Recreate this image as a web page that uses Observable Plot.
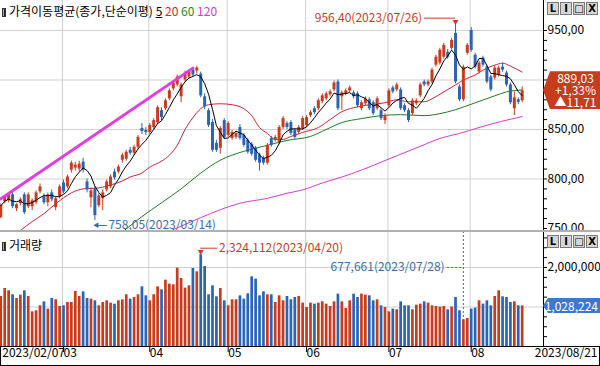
<!DOCTYPE html>
<html><head><meta charset="utf-8">
<script src="https://cdn.jsdelivr.net/npm/d3@7"></script>
<script src="https://cdn.jsdelivr.net/npm/@observablehq/plot@0.6"></script>
<style>
body{margin:0;background:#fff;}
#wrap{position:relative;width:600px;height:366px;overflow:hidden;font-family:'Noto Sans CJK KR',sans-serif;font-size:12px;background:#fff;color:#000;}
#price{position:absolute;left:0;top:0;width:600px;height:231px;overflow:hidden;}
#vol{position:absolute;left:0;top:231px;width:600px;height:135px;overflow:hidden;}
.ttl{position:absolute;left:2px;white-space:nowrap;line-height:14px;font-size:12px;}
.ico{display:inline-block;width:4px;height:9px;margin-right:3px;vertical-align:-1px;background:linear-gradient(90deg,#aaa 0 40%,#222 40%);border:1px solid #333;box-sizing:border-box;}
.btns{position:absolute;right:2px;display:flex;gap:1px;}
.btns span{display:inline-block;width:10px;height:11px;border:1px solid #7a7a7a;background:#d6d6d6;font:bold 10px/11px 'DejaVu Sans',sans-serif;text-align:center;color:#000;}
.tag{position:absolute;left:543px;width:57px;color:#fff;font-size:12px;}
#sep{position:absolute;left:0;top:230px;width:600px;height:2px;background:#b0b0b0;}
#strip{position:absolute;left:0;top:346px;width:598px;height:18px;border:1px solid #000;}
</style>
</head><body>
<div id="wrap">
  <div id="price"></div>
  <div id="vol"></div>
  <div id="sep"></div>
  <div id="strip"></div>
  <div class="ttl" style="top:4px"><span class="ico"></span>가격이동평균(종가,단순이평) <u>5</u> <span style="color:#d42828">20</span> <span style="color:#1e8a1e">60</span> <span style="color:#d23cd2">120</span></div>
  <div class="ttl" style="top:238px"><span class="ico"></span>거래량</div>
  <div class="btns" style="top:2px"><span>L</span><span>I</span><span>□</span><span>X</span></div>
  <div class="btns" style="top:235px"><span>L</span><span>I</span><span>□</span><span>X</span></div>
  <div id="ptag" class="tag"></div>
  <div id="vtag" class="tag"></div>
</div>
<script>
// ---------------- data ----------------
const tradingDays = ["02/07","02/08","02/09","02/10","02/13","02/14","02/15","02/16","02/17","02/20","02/21","02/22","02/23","02/24","02/27","02/28",
"03/02","03/03","03/06","03/07","03/08","03/09","03/10","03/13","03/14","03/15","03/16","03/17","03/20","03/21","03/22","03/23","03/24","03/27","03/28","03/29","03/30","03/31",
"04/03","04/04","04/05","04/06","04/07","04/10","04/11","04/12","04/13","04/14","04/17","04/18","04/19","04/20","04/21","04/24","04/25","04/26","04/27","04/28",
"05/02","05/03","05/04","05/08","05/09","05/10","05/11","05/12","05/15","05/16","05/17","05/18","05/19","05/22","05/23","05/24","05/25","05/26","05/30","05/31",
"06/01","06/02","06/05","06/07","06/08","06/09","06/12","06/13","06/14","06/15","06/16","06/19","06/20","06/21","06/22","06/23","06/26","06/27","06/28","06/29","06/30",
"07/03","07/04","07/05","07/06","07/07","07/10","07/11","07/12","07/13","07/14","07/17","07/18","07/19","07/20","07/21","07/24","07/25","07/26","07/27","07/28","07/31",
"08/01","08/02","08/03","08/04","08/07","08/08","08/09","08/10","08/11","08/14","08/16","08/17","08/18","08/21"];
const opens = [761,777,778,784,770,775,784,772,772,776, 787,782,776,786,771,782,796,792,809,811,
 810,817,797,781,790,773,780,789,792,807, 807,819,820,829,826,832,851,849,847,852,
 857,869,871,881,891,895,883,900,903,910, 909,906,883,869,857,836,831,859,844,841,
 842,852,844,839,835,831,824,821,816,841, 839,837,852,856,857,849,847,851,854,864,
 871,871,878,881,885,890,898,883,886,889, 887,886,871,876,880,877,871,869,859,874,
 892,890,890,874,869,866,876,884,898,895, 898,915,917,923,928,932,947,893,880,927,
 950,925,908,922,913,903,902,905,913,907, 895,871,880,879];
const highs = [775,783,786,786,775,781,786,786,780,788, 795,785,786,789,782,794,799,804,818,817,
 818,821,800,791,792,785,789,799,804,810, 814,826,829,832,834,844,856,852,856,861,
 874,872,881,891,899,905,897,909,910,912, 914,908,886,871,860,839,853,861,858,849,
 848,855,846,841,837,833,826,823,836,843, 844,854,863,858,859,851,854,863,864,869,
 873,881,886,888,890,899,900,889,891,894, 889,888,879,883,882,879,883,871,866,891,
 894,897,892,876,871,881,881,897,900,900, 912,925,932,937,931,942,956.4,895,915,937,
 953,927,919,924,915,905,914,914,917,909, 897,888,882,893];
const lows = [760,775,776,770,767,773,764,770,768,774, 785,774,772,777,768,780,785,790,806,808,
 807,806,786,771,758.05,771,768,787,790,799, 805,816,818,824,824,830,845,844,845,850,
 855,859,869,879,889,893,877,898,901,903, 906,882,870,852,827,827,825,840,842,839,
 840,839,832,825,823,817,808,814,814,832, 837,835,850,850,844,840,845,849,852,862,
 865,869,876,879,883,888,869,869,884,887, 881,872,869,874,869,864,869,859,855,872,
 886,888,869,867,857,864,874,882,893,893, 896,913,915,921,921,930,896,878,878,925,
 928,911,906,913,896,888,900,903,908,893, 875,864,875,877];
const closes = [773,782,784,772,774,779,766,784,778,786, 792,776,784,779,780,792,787,802,816,814,
 815,809,789,788,763,783,786,797,802,801, 812,824,827,826,832,842,848,847,854,859,
 872,862,879,889,897,903,895,907,908,905, 912,884,873,854,829,829,851,842,856,847,
 846,841,834,827,825,819,816,816,834,834, 842,852,861,852,846,842,852,861,862,867,
 867,879,884,886,888,897,871,887,889,892, 883,874,877,881,871,866,881,861,864,889,
 888,895,871,869,859,879,879,895,895,898, 910,923,930,935,923,940,898,880,913,935,
 930,913,917,915,898,890,912,912,910,895, 877,882,877.32,889.03];
const volumes = [1266000,1468000,1410000,1309000,1215000,1300000,1410000,1266000,878000,904000,
 1030000,1131000,947000,1215000,1182000,1013000,1030000,1114000,1114000,1392000,
 1266000,1384000,1215000,1199000,1157000,1030000,1114000,1157000,1097000,1072000,
 1157000,1182000,1309000,1199000,1241000,1309000,1511000,1283000,1157000,1309000,
 1511000,1435000,1680000,1579000,1562000,1984000,1722000,1478000,1536000,1975000,
 1891000,2324112,2025000,1309000,1536000,1258000,1468000,1157000,1030000,1182000,
 1182000,1283000,1199000,1334000,1764000,1705000,1283000,1384000,1309000,1309000,
 1114000,1283000,1157000,1266000,1182000,1241000,1266000,1097000,988000,1097000,
 1072000,1097000,1131000,1072000,1013000,1131000,1326000,1131000,962000,1157000,
 1326000,1241000,1326000,1300000,1283000,1157000,1182000,1030000,988000,878000,
 947000,930000,1131000,1030000,1030000,930000,1046000,1072000,1131000,1097000,
 1030000,1013000,997000,1013000,930000,1000000,1241000,904000,677661,709000,
 947000,972000,1157000,1072000,1157000,1030000,1266000,1410000,1258000,1241000,
 1114000,1131000,1030000,1028224];
// moving averages (day index -> value)
const ma20Idx = [5,8,11,14,16,18,21,25,28,31,33,36,38,41,43,45,47,49,51,53,56,59,62,64,66,68,70,72,74,77,81,84,87,90,94,98,101,104,108,110,113,116,118,121,123,126,128,130,133];
const ma20Val = [748,757,765,775,781,786,790,791,794,798,802,806,812,818,824,834,850,862,871,875,876,875,871,864,852,846,840,840,843,847,852,860,868,872,875,877,880,878,878,881,888,895,900,905,910,915,917,914,908];
const ma60Idx = [31.5,36,41,46,51,56,62,68,73,79,83,87,92,97,102,108,112,116,121,126,129,133];
const ma60Val = [748,762,776,790,806,819,828,834,839,843,850,857,861,864,865,864,866,870,877,884,888,890];
const ma120Idx = [43.5,51,56,61,68,73,77,82,87,92,97,102,107,112,117,122,127.5,133];
const ma120Val = [748,761,769,775.5,780.5,785.6,789,796,802,809,817,825,833,841,846,852,858,863];
// user-drawn trend line
const trendIdx = [0, 49];
const trendVal = [780, 912];
// axis ticks and the labels that are visible (others sit under the value tags)
const priceTicks = d3.range(750, 951, 10);
const priceLabels = [750, 800, 850, 950];
const priceGrid = [800, 850, 900, 950];
const volTicks = d3.range(250000, 2900000, 250000);
const volLabels = [2000000];
const volGrid = [1000000, 2000000];
const endDates = ["2023/02/07", "2023/08/21"];

// ---------------- build ----------------
const FONT = "'Noto Sans CJK KR', sans-serif";
const up = "#c83c1e", down = "#2a64b4";
const annRed = "#c43c2a", annBlue = "#3a6cb0";
const xDomain = [-0.077, 138.44];
const rows = tradingDays.map((date, i) => ({i, date, open: opens[i], high: highs[i], low: lows[i], close: closes[i], volume: volumes[i]}));
const col = d => d.close >= d.open ? up : down;
const monthStarts = rows.filter((d, i) => i > 0 && d.date.slice(0, 2) !== rows[i - 1].date.slice(0, 2)).map(d => d.i);
const monthLabels = monthStarts.map(i => tradingDays[i].slice(0, 2));
const pts = (idx, val) => idx.map((i, k) => ({i, v: val[k]}));
const fmt2 = d => d3.format(".2f")(d).replace(".", ",");
const fmtV = d3.format(",");

const hiRow = rows.reduce((a, b) => b.high > a.high ? b : a);
const loRow = rows.reduce((a, b) => b.low < a.low ? b : a);
const vMaxRow = rows.reduce((a, b) => b.volume > a.volume ? b : a);
const vMinRow = rows.reduce((a, b) => b.volume < a.volume ? b : a);
const fullDate = d => "2023/" + d.date;
const minLabelLevel = 2000000;

const baseStyle = {fontFamily: FONT, fontSize: "12px", background: "transparent", color: "#000", overflow: "hidden"};

const pricePlot = Plot.plot({
  width: 600, height: 231, marginTop: 0, marginRight: 57, marginBottom: 0, marginLeft: 0,
  style: baseStyle,
  x: {domain: xDomain, axis: null},
  y: {domain: [746.97, 980.3], axis: "right", ticks: priceTicks, tickFormat: d => priceLabels.includes(d) ? fmt2(d) : "", tickSize: 3, tickPadding: 1, line: true, label: null},
  marks: [
    Plot.ruleY(priceGrid, {stroke: "#d0d0d0"}),
    Plot.ruleX(monthStarts, {stroke: "#d0d0d0", dx: -1}),
    Plot.line(pts(ma120Idx, ma120Val), {x: "i", y: "v", stroke: "#d23cd2", strokeWidth: 1, curve: "monotone-x"}),
    Plot.line(pts(ma60Idx, ma60Val), {x: "i", y: "v", stroke: "#1e7d1e", strokeWidth: 1, curve: "monotone-x"}),
    Plot.line(pts(ma20Idx, ma20Val), {x: "i", y: "v", stroke: "#d0203c", strokeWidth: 1, curve: "monotone-x"}),
    Plot.ruleX(rows, {x: "i", y1: "low", y2: "high", stroke: col, strokeWidth: 1}),
    Plot.ruleX(rows, {x: "i", y1: "open", y2: "close", stroke: col, strokeWidth: 3}),
    Plot.line(rows, Plot.windowY({k: 5, anchor: "end"}, {x: "i", y: "close", stroke: "#000", strokeWidth: 1})),
    Plot.line(pts(trendIdx, trendVal), {x: "i", y: "v", stroke: "#e23ce2", strokeWidth: 3}),
    // high annotation
    Plot.ruleY([hiRow], {y: "high", x1: d => d.i - 8, x2: "i", dy: -6, stroke: annRed}),
    Plot.text([hiRow], {x: "i", y: "high", text: () => "▼", fontSize: 6, dy: -2, fill: annRed}),
    Plot.text([hiRow], {x: d => d.i - 8, y: "high", text: d => `${fmt2(d.high)}(${fullDate(d)})`, textAnchor: "end", dx: -2, dy: -6, fill: annRed, fontSize: 12}),
    // low annotation
    Plot.ruleY([loRow], {y: "low", x1: "i", x2: d => d.i + 3.2, dy: 5, stroke: annBlue}),
    Plot.text([loRow], {x: "i", y: "low", text: () => "◀", fontSize: 6, dx: 1, dy: 5, fill: annBlue}),
    Plot.text([loRow], {x: d => d.i + 3.2, y: "low", text: d => `${fmt2(d.low)}(${fullDate(d)})`, textAnchor: "start", dx: 1, dy: 5, fill: annBlue, fontSize: 12})
  ]
});
document.getElementById("price").appendChild(pricePlot);

const volTop = 2911392;
const volPlot = Plot.plot({
  width: 600, height: 135, marginTop: 0, marginRight: 57, marginBottom: 20, marginLeft: 0,
  style: baseStyle,
  x: {domain: xDomain, axis: "bottom", ticks: monthStarts, tickFormat: () => "", tickSize: 6, label: null},
  y: {domain: [0, volTop], axis: "right", ticks: volTicks, tickFormat: d => volLabels.includes(d) ? fmtV(d) : "", tickSize: 3, tickPadding: 1, line: true, label: null},
  marks: [
    Plot.ruleY(volGrid, {stroke: "#d0d0d0"}),
    Plot.ruleX(monthStarts, {stroke: "#d0d0d0", dx: -1}),
    Plot.ruleX(rows, {x: "i", y: "volume", stroke: col, strokeWidth: 2.7}),
    // max volume annotation
    Plot.ruleY([vMaxRow], {y: "volume", x1: "i", x2: d => d.i + 4.4, dy: -6.5, stroke: annRed}),
    Plot.text([vMaxRow], {x: "i", y: "volume", text: () => "▼", fontSize: 6, dy: -3, fill: annRed}),
    Plot.text([vMaxRow], {x: d => d.i + 4.4, y: "volume", text: d => `${fmtV(d.volume)}(${fullDate(d)})`, textAnchor: "start", dx: 1, dy: -6.5, fill: annRed, fontSize: 12}),
    // min volume annotation
    Plot.ruleX([vMinRow], {x: "i", stroke: annBlue, strokeDasharray: "2,2"}),
    Plot.ruleY([vMinRow], {y: () => minLabelLevel, x1: d => d.i - 4, x2: "i", stroke: annBlue, strokeDasharray: "2,2"}),
    Plot.text([vMinRow], {x: d => d.i - 4, y: () => minLabelLevel, text: d => `${fmtV(d.volume)}(${fullDate(d)})`, textAnchor: "end", dx: -3, fill: annBlue, fontSize: 12}),
    // date strip
    Plot.text(monthStarts, {x: d => d, text: (d, k) => monthLabels[k], frameAnchor: "bottom", dy: 10, textAnchor: "start", dx: 0, fill: "#000"}),
    Plot.text([endDates[0]], {x: () => 0, text: d => d, frameAnchor: "bottom", dy: 10, textAnchor: "start", dx: 1.5, fill: "#000"}),
    Plot.text([endDates[1]], {text: d => d, frameAnchor: "bottom-right", dy: 10, dx: 54, textAnchor: "end", fill: "#000"})
  ]
});
document.getElementById("vol").appendChild(volPlot);

// value tags on the right axes
const last = rows[rows.length - 1], prev = rows[rows.length - 2];
const chg = last.close - prev.close;
const pct = chg / prev.close * 100;
const yP = pricePlot.scale("y").apply(last.close);
const ptag = document.getElementById("ptag");
ptag.style.top = (yP - 19) + "px";
ptag.style.height = "38px";
ptag.style.background = "#c83c1e";
ptag.style.clipPath = "polygon(0 50%, 7px 0, 100% 0, 100% 100%, 7px 100%)";
ptag.style.lineHeight = "12px";
ptag.style.paddingTop = "1px";
ptag.style.boxSizing = "border-box";
ptag.style.textAlign = "center";
ptag.style.paddingLeft = "8px";
ptag.innerHTML = `${fmt2(last.close)}<br>${chg >= 0 ? "+" : ""}${fmt2(pct)}%<br>${chg >= 0 ? "▲" : "▼"}${fmt2(Math.abs(chg))}`;

const yV = volPlot.scale("y").apply(last.volume) + 231;
const vtag = document.getElementById("vtag");
vtag.style.top = (yV - 7.5) + "px";
vtag.style.height = "15px";
vtag.style.lineHeight = "15px";
vtag.style.background = "#3a78d2";
vtag.style.clipPath = "polygon(0 50%, 5px 0, 100% 0, 100% 100%, 5px 100%)";
vtag.style.textAlign = "right";
vtag.style.paddingRight = "2px";
vtag.style.boxSizing = "border-box";
vtag.textContent = fmtV(last.volume);
</script>
</body></html>
